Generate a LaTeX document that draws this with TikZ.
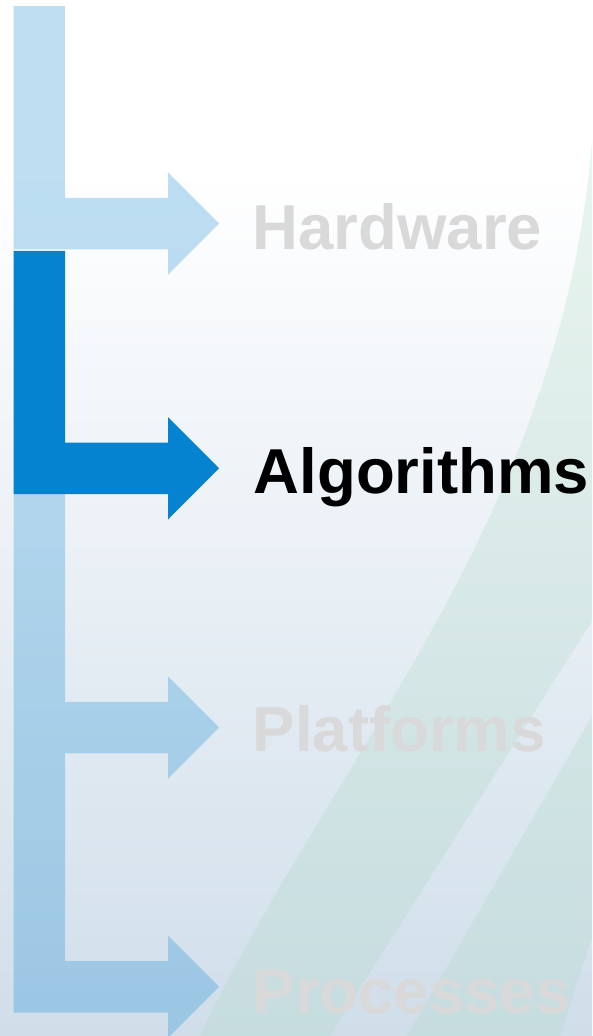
\documentclass[tikz,border=0pt]{standalone}
\usepackage{fontspec}
\setmainfont{Liberation Sans}
\begin{document}
\begin{tikzpicture}[x=1pt,y=-1pt]
  \definecolor{stepblue}{HTML}{0583D0}
  \definecolor{fadedtext}{HTML}{D9D9D9}
  \definecolor{bgbot}{HTML}{D0DEEA}
  \definecolor{swoosh}{HTML}{A8D8C0}
  \tikzset{
    faded arrow/.style={fill=stepblue, fill opacity=0.26},
    active arrow/.style={fill=stepblue},
    steplabel/.style={anchor=base west, inner sep=0pt,
      font=\fontsize{63.5}{63.5}\selectfont\bfseries},
  }
  % page frame
  \clip (0,0) rectangle (592,1036);

  % background: white top, fading to pale blue
  \fill[white] (0,0) rectangle (592,170);
  \shade[top color=white, bottom color=bgbot] (0,170) rectangle (592,1036);

  % green swoosh on the right, with a light diagonal stripe cut out
  \fill[swoosh, fill opacity=0.25, even odd rule]
    (592,140) .. controls (562,520) and (330,760) .. (200,1036)
    -- (592,1036) -- cycle
    (592,621) -- (330,1036) -- (407,1036) -- (592,716) -- cycle
    (592,937) -- (560,1036) -- (592,1036) -- cycle;

  % step 1 (faded)
  \fill[faded arrow] (13.7,6) -- (65,6) -- (65,197.75) -- (168,197.75) -- (168,172.25)
    -- (219,223.5) -- (168,274.75) -- (168,249.25) -- (13.7,249.25) -- cycle;
  % step 2 (active)
  \fill[active arrow] (13.7,250.75) -- (65,250.75) -- (65,442.5) -- (168,442.5) -- (168,417)
    -- (219,468.25) -- (168,519.5) -- (168,494) -- (13.7,494) -- cycle;
  % steps 3 and 4 (faded)
  \fill[faded arrow] (13.7,494) -- (65,494) -- (65,701.75) -- (168,701.75) -- (168,676.25)
    -- (219,727.5) -- (168,778.75) -- (168,753.25) -- (65,753.25) -- (65,961)
    -- (168,961) -- (168,935.5) -- (219,986.75) -- (168,1038) -- (168,1012.5)
    -- (13.7,1012.5) -- cycle;

  % labels
  \node[steplabel, text=fadedtext] (hardware)   at (252.5,249)    {Hardware};
  \node[steplabel, text=black]     (algorithms) at (253.5,493)    {Algorithms};
  \node[steplabel, text=fadedtext] (platforms)  at (252.5,751.5)  {Platforms};
  \node[steplabel, text=fadedtext] (processes)  at (252.5,1013)   {Processes};
\end{tikzpicture}
\end{document}
